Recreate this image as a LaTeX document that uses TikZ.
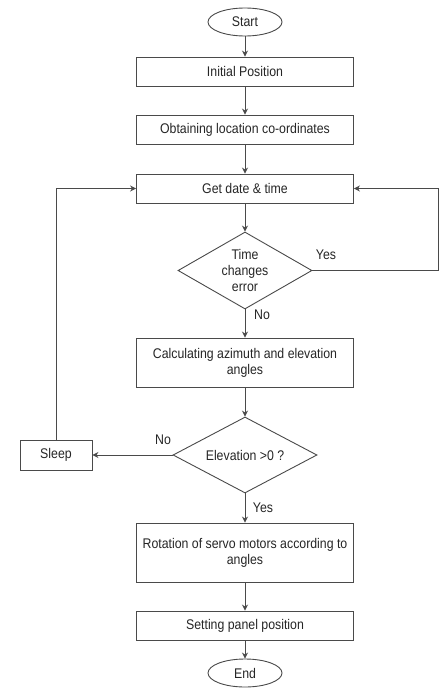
\documentclass[tikz,border=0pt]{standalone}
\usepackage{fontspec}
\setmainfont{Liberation Sans}[FakeStretch=0.88]
\usetikzlibrary{shapes.geometric,arrows.meta}
\definecolor{linec}{HTML}{4A4A4A}
\definecolor{textc}{HTML}{262626}
\tikzset{
  base/.style={draw=linec, line width=0.9pt, text=textc, font=\fontsize{14}{16}\selectfont, align=center, inner sep=0pt},
  procbox/.style={base, rectangle, minimum width=217pt, minimum height=29pt},
  termbox/.style={base, ellipse, minimum width=74pt, minimum height=28pt},
  decbox/.style={base, diamond, aspect=1.7},
  conn/.style={draw=linec, line width=0.9pt, -{Stealth[length=6pt,width=6pt]}},
  lbl/.style={text=textc, font=\fontsize{14}{16}\selectfont, inner sep=0pt}
}
\begin{document}
\begin{tikzpicture}[x=1pt,y=-1pt]
\useasboundingbox[fill=white] (0,0) rectangle (440,688);
\node[termbox] (start) at (245,22) {Start};
\node[procbox] (init) at (245,71.5) {Initial Position};
\node[procbox] (obt) at (245,129.5) {Obtaining location co-ordinates};
\node[procbox] (get) at (245,188.5) {Get date \& time};
\node[decbox, minimum width=134pt, minimum height=77pt] (d1) at (245,270.5) {Time\\changes\\error};
\node[procbox, minimum height=49pt] (calc) at (245,362.5) {Calculating azimuth and elevation\\angles};
\node[decbox, minimum width=144pt, minimum height=76pt] (d2) at (245,455) {Elevation >0 ?};
\node[procbox, minimum width=72pt, minimum height=30pt] (sleep) at (56,455) {Sleep};
\node[procbox, minimum height=59pt] (rot) at (245,552.5) {Rotation of servo motors according to\\angles};
\node[procbox] (set) at (245,625.5) {Setting panel position};
\node[termbox] (end) at (245,673) {End};

\coordinate (rtop) at (438.5,188.5);
\coordinate (rbot) at (438.5,270.5);
\coordinate (ltop) at (56,188.5);

\path[conn] (start) -- (init);
\path[conn] (init) -- (obt);
\path[conn] (obt) -- (get);
\path[conn] (get) -- (d1);
\path[conn] (d1) -- (calc);
\path[conn] (calc) -- (d2);
\path[conn] (d2) -- (rot);
\path[conn] (rot) -- (set);
\path[conn] (set) -- (end);
\path[conn] (d1.east) -- (rbot) -- (rtop) -- (get.east);
\path[conn] (d2.west) -- (sleep.east);
\path[conn] (sleep.north) -- (ltop) -- (get.west);

\node[lbl] (yes1) at (326,255) {Yes};
\node[lbl] (no1) at (262,315) {No};
\node[lbl] (no2) at (163,440) {No};
\node[lbl] (yes2) at (263,508) {Yes};
\end{tikzpicture}
\end{document}
